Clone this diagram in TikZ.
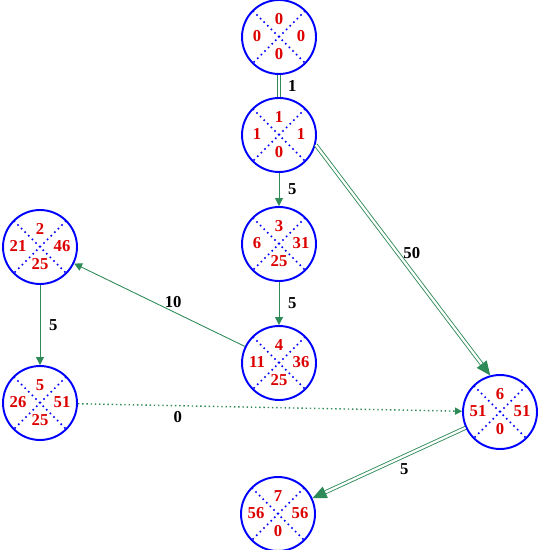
\documentclass[tikz,border=0pt]{standalone}
\usepackage{fontspec}
\setmainfont{Liberation Serif}
\usepackage{tikz}
\usetikzlibrary{arrows.meta,positioning}
\definecolor{evblue}{RGB}{0,0,255}
\definecolor{evred}{RGB}{220,0,0}
\definecolor{evgreen}{RGB}{46,139,87}

\tikzset{
  ev/.style={circle,draw=evblue,line width=1.1pt,minimum size=1.48cm,inner sep=0pt,
    path picture={
      \draw[evblue,line width=0.9pt,dash pattern=on 0.9pt off 2pt] (path picture bounding box.north west)--(path picture bounding box.south east);
      \draw[evblue,line width=0.9pt,dash pattern=on 0.9pt off 2pt] (path picture bounding box.north east)--(path picture bounding box.south west);}},
  num/.style={font=\fontsize{9.5}{10}\selectfont\bfseries,text=evred,inner sep=0pt},
  lbl/.style={font=\fontsize{9.5}{10}\selectfont\bfseries,text=black,inner sep=2pt},
  act/.style={evgreen,line width=0.5pt,-{Triangle[length=4.5pt,width=4.5pt]}},
  crit/.style={draw=evgreen,double=white,double distance=1.3pt,line width=0.5pt},
  dum/.style={evgreen,line width=0.8pt,dash pattern=on 0.8pt off 1.6pt,-{Triangle[length=4pt,width=4pt]}}
}

% event node: name, position, top, left, right, bottom
\newcommand\evnode[6]{
  \node[ev] (#1) at (#2) {};
  \node[num] (#1t) at ([shift={(0,-18)}]#1.center) {#3};
  \node[num] (#1l) at ([shift={(-22,-1)}]#1.center) {#4};
  \node[num] (#1r) at ([shift={(22,-1)}]#1.center) {#5};
  \node[num] (#1b) at ([shift={(0,17)}]#1.center) {#6};
}

\begin{document}
\begin{tikzpicture}[x=0.02cm,y=-0.02cm]
  \useasboundingbox (0,0) rectangle (544,550);
  \evnode{n0}{279,37}{0}{0}{0}{0}
  \evnode{n1}{279,135}{1}{1}{1}{0}
  \evnode{n3}{279,244}{3}{6}{31}{25}
  \evnode{n4}{279,363}{4}{11}{36}{25}
  \evnode{n2}{40,247}{2}{21}{46}{25}
  \evnode{n5}{40,403}{5}{26}{51}{25}
  \evnode{n6}{500,412}{6}{51}{51}{0}
  \evnode{n7}{278,514}{7}{56}{56}{0}
  % critical activities
  \draw[crit] (n0.south) -- node[lbl,right=3pt]{1} (n1.north);
  \draw[crit,-{Triangle[length=8pt,width=7pt]}] (n1.-15) -- node[lbl,pos=0.47,right=1pt]{50} (n6.105);
  \draw[crit,-{Triangle[length=8pt,width=7pt]}] (n6) -- node[lbl,pos=0.4,below=2pt]{5} (n7);
  % other activities
  \draw[act] (n1.south) -- node[lbl,right=3pt]{5} (n3.north);
  \draw[act] (n3.south) -- node[lbl,right=3pt]{5} (n4.north);
  \draw[act] (n4) -- node[lbl,pos=0.42,above=0pt]{10} (n2);
  \draw[act] (n2.south) -- node[lbl,right=3pt]{5} (n5.north);
  \draw[dum] (n5) -- node[lbl,pos=0.26,below=1pt]{0} (n6);
\end{tikzpicture}
\end{document}
